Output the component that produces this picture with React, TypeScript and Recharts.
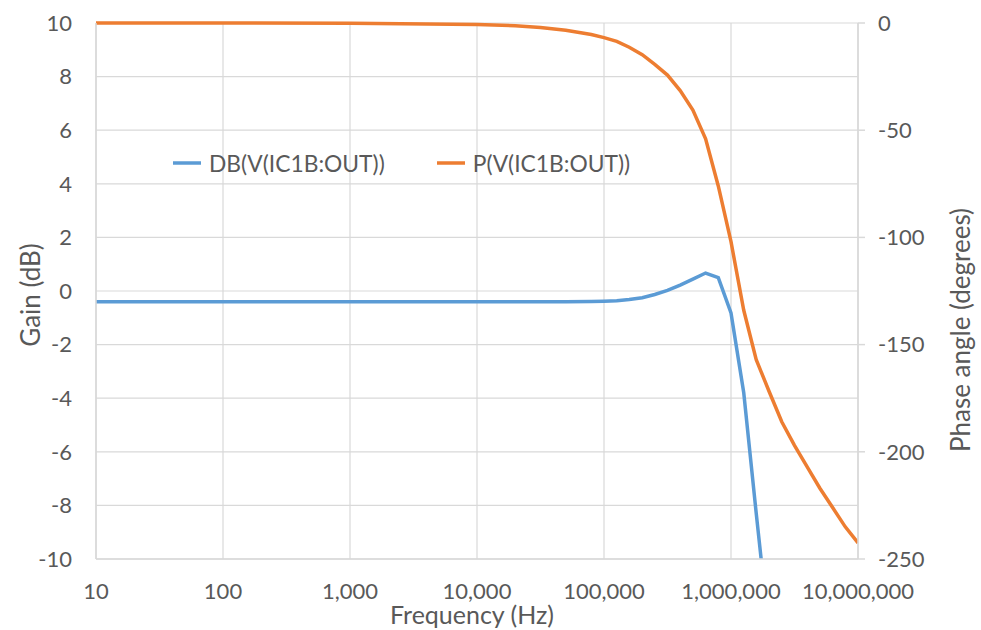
import React from 'react';
import { LineChart, Line, XAxis, YAxis, CartesianGrid, Legend, Label } from 'recharts';

const frequencies = [10, 100, 1000, 10000, 20000, 31600, 50000, 79400, 100000, 126000, 158000, 200000, 251000, 316000, 398000, 501000, 631000, 794000, 1000000, 1260000, 1580000, 2000000, 2510000, 3160000, 3980000, 5010000, 6310000, 7940000, 10000000];
const gainDb: (number | null)[] = [-0.4, -0.4, -0.4, -0.4, -0.4, -0.4, -0.4, -0.39, -0.38, -0.36, -0.32, -0.25, -0.13, 0.02, 0.22, 0.44, 0.67, 0.5, -0.82, -3.8, -8.3, -12.8, null, null, null, null, null, null, null];
const phaseDeg = [0, 0, -0.1, -0.7, -1.3, -2.1, -3.4, -5.4, -6.8, -8.6, -11.3, -14.8, -19.3, -24.3, -31.5, -40.6, -54, -76, -102, -134, -157, -172, -186, -197, -207, -217, -226, -235, -242.5];

const xTicks = [10, 100, 1000, 10000, 100000, 1000000, 10000000];
const gainTicks = [-10, -8, -6, -4, -2, 0, 2, 4, 6, 8, 10];
const phaseTicks = [0, -50, -100, -150, -200, -250];

const seriesNames = { gain: 'DB(V(IC1B:OUT))', phase: 'P(V(IC1B:OUT))' };

const data = frequencies.map((f, i) => ({ f, gain: gainDb[i], phase: phaseDeg[i] }));

const TEXT = '#595959';
const GRID = '#d9d9d9';
const BLUE = '#5b9bd5';
const ORANGE = '#ed7d31';

const LegendContent = (props: any) => {
  const payload = props.payload || [];
  return (
    <div style={{ display: 'flex', alignItems: 'center', fontSize: 22.8, color: TEXT, lineHeight: '30px', whiteSpace: 'nowrap' }}>
      {payload.map((p: any, i: number) => (
        <div key={i} style={{ display: 'flex', alignItems: 'center', marginRight: 52 }}>
          <svg width={28} height={6} style={{ marginRight: 8 }}>
            <line x1={0} y1={3} x2={28} y2={3} stroke={p.color} strokeWidth={3.5} />
          </svg>
          <span>{p.value}</span>
        </div>
      ))}
    </div>
  );
};

export default function App() {
  return (
    <div style={{ position: 'absolute', left: 0, top: 0, width: 981, height: 630, background: '#fff', fontFamily: 'Lato, "Open Sans", sans-serif' }}>
      <LineChart width={981} height={630} data={data} margin={{ top: 23, right: 43, bottom: 31, left: 36 }}>
        <CartesianGrid stroke={GRID} strokeWidth={1.2} yAxisId="left" />
        <XAxis
          dataKey="f"
          type="number"
          scale="log"
          domain={[10, 10000000]}
          ticks={xTicks}
          allowDataOverflow
          tickFormatter={(v: number) => v.toLocaleString('en-US')}
          tick={{ fill: TEXT, fontSize: 22 }}
          tickLine={false}
          tickSize={0}
          tickMargin={24}
          axisLine={{ stroke: GRID, strokeWidth: 1.5 }}
          height={40}
          interval={0}
        >
          <Label
            content={(p: any) => {
              const vb = p.viewBox || {};
              return (
                <text x={472} y={vb.y + 65} textAnchor="middle" fill={TEXT} fontSize={25}>
                  Frequency (Hz)
                </text>
              );
            }}
          />
        </XAxis>
        <YAxis
          yAxisId="left"
          domain={[-10, 10]}
          ticks={gainTicks}
          allowDataOverflow
          interval={0}
          tick={{ fill: TEXT, fontSize: 22 }}
          tickLine={false}
          tickSize={0}
          tickMargin={24}
          axisLine={{ stroke: GRID, strokeWidth: 1.5 }}
          width={60}
        >
          <Label
            content={(p: any) => {
              const vb = p.viewBox || {};
              const cy = vb.y + vb.height / 2 + 4;
              return (
                <text x={30} y={cy} transform={`rotate(-90 30 ${cy})`} textAnchor="middle" dominantBaseline="central" fill={TEXT} fontSize={26}>
                  Gain (dB)
                </text>
              );
            }}
          />
        </YAxis>
        <YAxis
          yAxisId="right"
          orientation="right"
          domain={[-250, 0]}
          ticks={phaseTicks}
          interval={0}
          tick={{ fill: TEXT, fontSize: 22 }}
          tickLine={{ stroke: GRID, strokeWidth: 1.5 }}
          tickSize={7}
          tickMargin={13}
          axisLine={{ stroke: GRID, strokeWidth: 1.5 }}
          width={80}
        >
          <Label
            content={() => (
              <text x={960} y={330} transform="rotate(-90 960 330)" textAnchor="middle" dominantBaseline="central" fill={TEXT} fontSize={26}>
                Phase angle (degrees)
              </text>
            )}
          />
        </YAxis>
        <Legend
          layout="horizontal"
          verticalAlign="middle"
          align="center"
          content={LegendContent}
          wrapperStyle={{ position: 'absolute', left: 173, top: 148, width: 'auto' }}
        />
        <Line yAxisId="left" dataKey="gain" name={seriesNames.gain} stroke={BLUE} strokeWidth={3.5} dot={false} isAnimationActive={false} connectNulls={false} />
        <Line yAxisId="right" dataKey="phase" name={seriesNames.phase} stroke={ORANGE} strokeWidth={3.5} dot={false} isAnimationActive={false} />
      </LineChart>
    </div>
  );
}
